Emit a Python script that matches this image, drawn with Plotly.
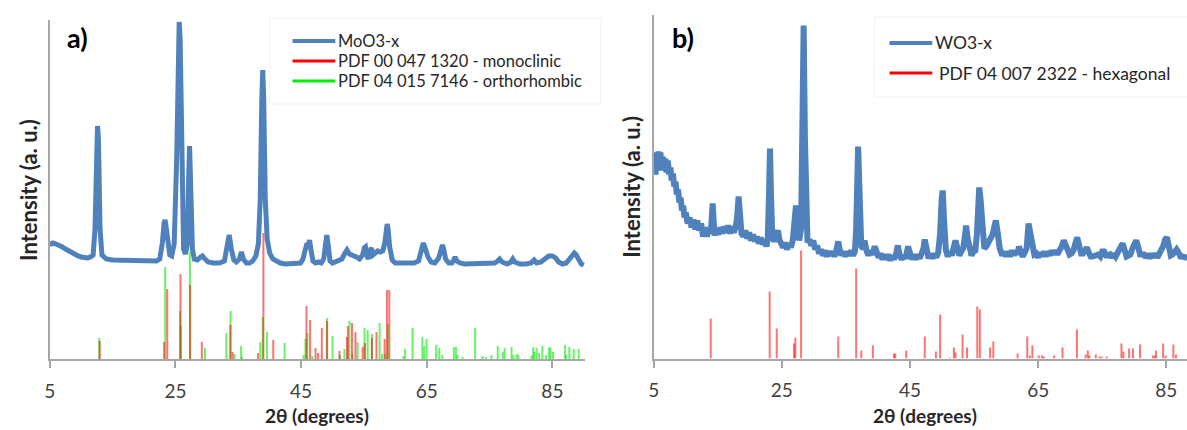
import plotly.graph_objects as go

# ---------------- data ----------------
# Panel a: MoO3-x pattern (2theta, intensity a.u.)
moo3_pts = [(5.0,114),(5.5,116),(6.0,115),(6.5,114),(7.0,112),(7.5,110),(8.0,108),(8.5,106),(9.0,104),(9.5,103),
 (10.0,102),(10.5,101),(11.0,101),(11.5,102),(11.9,104),(12.2,130),(12.45,220),(12.6,233),(12.75,220),(13.0,130),
 (13.3,104),(13.7,101),(14.0,100),(15,99),(16,99),(17,99),(18,99),(19,98),(20,98),(21,98),(22,98),(22.5,100),
 (22.9,115),(23.2,136),(23.35,139),(23.5,133),(23.8,112),(24.1,104),(24.4,103),(24.8,115),(25.2,200),(25.45,320),
 (25.6,337),(25.75,320),(26.0,200),(26.3,110),(26.6,105),(26.9,115),(27.1,180),(27.25,213),(27.4,180),(27.7,110),
 (28.0,100),(28.5,99),(29.0,102),(29.3,103),(29.7,100),(30.2,97),(31,96),(32,96),(32.8,98),(33.2,110),(33.55,124),
 (33.9,110),(34.3,99),(34.7,97),(35.2,100),(35.5,107),(35.8,100),(36.3,96),(36.8,96),(37.3,98),(37.8,103),(38.2,115),
 (38.5,160),(38.75,260),(38.9,289),(39.05,260),(39.3,160),(39.6,120),(40.0,106),(40.5,100),(41.0,98),(41.7,96),
 (42.5,95),(43.5,95),(44.3,95),(44.9,96),(45.3,100),(45.7,114),(45.95,116),(46.1,112),(46.35,119),(46.6,108),
 (46.9,98),(47.3,96),(47.8,97),(48.2,96),(48.6,100),(48.9,115),(49.1,124),(49.3,115),(49.6,98),(50.0,96),(50.5,97),
 (51.0,98),(51.5,100),(51.9,105),(52.3,109),(52.7,105),(53.2,104),(53.8,102),(54.3,100),(54.8,104),(55.05,111),
 (55.25,112),(55.45,104),(55.7,100),(55.95,108),(56.2,111),(56.45,104),(56.8,106),(57.2,108),(57.6,107),(58.0,108),
 (58.3,115),(58.55,130),(58.7,135),(58.85,130),(59.1,112),(59.5,99),(60.0,96),(61,96),(62,96),(63,96),(63.7,98),
 (64.1,106),(64.45,116),(64.8,110),(65.2,102),(65.7,97),(66.3,96),(66.9,101),(67.3,110),(67.5,114),(67.7,110),
 (68.0,100),(68.5,96),(69.0,96),(69.3,99),(69.5,102),(69.8,98),(70.3,96),(71,95),(72,95),(73,95),(74,95),(75,95),
 (75.8,96),(76.3,98),(76.6,100),(77.0,97),(77.8,95),(78.4,97),(78.7,100),(79.0,97),(79.8,95),(80.8,95),(81.6,96),
 (82.1,99),(82.5,96),(83.2,97),(83.8,100),(84.4,103),(85.0,103),(85.5,101),(86.0,97),(86.6,95),(87.2,96),(87.8,100),
 (88.2,104),(88.5,106),(88.8,104),(89.2,98),(89.6,95),(90.0,94)]
moo3_x = [p[0] for p in moo3_pts]
moo3_y = [p[1] for p in moo3_pts]

# PDF 00 047 1320 - monoclinic (positions, relative heights)
mono_pos = [12.95,23.2,23.7,25.8,27.35,29.2,33.75,34.1,38.15,39.0,40.57,45.85,46.43,47.3,47.7,48.3,49.15,51.1,
            52.3,52.45,53.1,53.66,54.8,55.15,56.26,57.0,58.3,58.68,59.05]
mono_h = [18,17,70,85,74,17,34,7,6,126,19,53,39,11,6,31,38,8,22,33,36,27,12,16,21,27,20,69,69]

# PDF 04 015 7146 - orthorhombic
ortho_pos = [12.87,23.37,25.75,25.85,27.3,29.7,33.1,33.77,34.4,35.45,35.6,38.5,38.9,39.57,42.37,45.4,45.7,46.0,
             46.8,49.1,50.0,51.2,51.9,52.7,53.2,54.0,55.1,55.6,56.3,57.5,57.9,58.4,58.8,61.3,61.55,62.74,64.3,64.6,
             64.97,66.5,67.0,67.5,69.3,69.65,69.9,70.7,72.7,73.9,74.4,75.3,76.3,77.1,77.4,78.5,78.8,79.3,79.6,81.7,
             81.96,82.1,82.5,82.9,83.4,84.0,84.5,84.7,85.1,87.0,87.2,87.7,88.4,89.2]
ortho_h = [21,92,48,33,107,11,26,48,5,13,2,17,42,27,16,4,20,26,3,41,23,4,10,38,5,17,31,29,25,36,5,5,35,3,10,31,
           22,13,20,14,11,4,12,12,4,2,31,3,2,4,13,7,11,12,4,5,4,4,12,7,11,6,13,4,12,11,7,14,4,12,10,10]

# Panel b: WO3-x pattern
wo3_pts = [(5.0,186),(5.15,202),(5.3,184),(5.45,206),(5.6,190),(5.75,207),(5.9,192),(6.05,206),(6.2,188),(6.4,202),
 (6.6,190),(6.8,200),(7.0,186),(7.2,198),(7.4,184),(7.6,191),(7.8,178),(8.0,185),(8.2,172),(8.4,177),(8.6,164),
 (8.8,169),(9.0,156),(9.2,161),(9.4,148),(9.6,153),(9.8,141),(10.0,146),(10.3,135),(10.6,141),(10.9,131),(11.2,139),
 (11.5,129),(11.8,138),(12.1,128),(12.4,135),(12.7,122),(13.0,131),(13.3,122),(13.6,130),(13.9,125),(14.05,140),
 (14.2,155),(14.35,138),(14.5,123),(14.8,130),(15.1,124),(15.4,131),(15.7,125),(16.0,132),(16.3,126),(16.6,133),
 (16.9,125),(17.2,132),(17.5,126),(17.8,132),(18.0,140),(18.25,162),(18.5,138),(18.7,125),(19.0,122),(19.3,128),
 (19.6,120),(19.9,126),(20.2,118),(20.5,124),(20.8,117),(21.1,122),(21.4,115),(21.7,121),(22.0,114),(22.3,119),
 (22.6,112),(22.8,120),(23.0,165),(23.15,210),(23.3,165),(23.5,122),(23.8,117),(24.1,122),(24.4,128),(24.6,119),
 (24.9,116),(25.2,111),(25.5,116),(25.8,109),(26.1,115),(26.4,111),(26.7,118),(27.0,135),(27.2,153),(27.4,135),
 (27.7,118),(28.0,130),(28.2,220),(28.4,333),(28.6,220),(28.8,130),(29.0,116),(29.3,119),(29.6,113),(29.9,118),
 (30.2,109),(30.5,113),(30.8,105),(31.1,109),(31.4,103),(31.7,108),(32.0,102),(32.3,107),(32.6,103),(32.9,107),
 (33.2,102),(33.5,108),(33.8,117),(34.0,110),(34.3,103),(34.6,107),(34.9,102),(35.2,107),(35.5,103),(35.8,108),
 (36.1,103),(36.4,107),(36.6,130),(36.9,212),(37.2,130),(37.4,112),(37.7,110),(37.9,118),(38.2,108),(38.5,103),
 (38.8,108),(39.1,104),(39.5,112),(39.8,106),(40.1,101),(40.4,105),(40.7,99),(41.0,104),(41.3,99),(41.6,104),
 (41.9,98),(42.2,103),(42.5,99),(42.8,104),(43.1,113),(43.4,103),(43.7,99),(44.0,103),(44.3,100),(44.7,112),
 (45.0,104),(45.3,99),(45.6,104),(45.9,99),(46.2,104),(46.5,100),(46.8,105),(47.1,110),(47.3,119),(47.6,106),
 (47.9,100),(48.2,105),(48.5,100),(48.8,105),(49.1,101),(49.4,106),(49.7,125),(49.95,160),(50.1,168),(50.3,140),
 (50.6,108),(50.9,102),(51.2,107),(51.5,103),(51.8,110),(52.1,118),(52.4,110),(52.7,103),(53.0,107),(53.3,110),
 (53.6,124),(53.75,133),(54.0,120),(54.3,108),(54.6,103),(54.9,107),(55.2,108),(55.45,125),(55.7,163),(55.8,171),
 (56.0,160),(56.3,120),(56.6,110),(56.9,112),(57.2,116),(57.5,120),(57.9,124),(58.2,133),(58.4,138),(58.7,125),
 (59.0,110),(59.4,103),(59.7,107),(60.0,102),(60.3,107),(60.6,102),(60.9,108),(61.2,103),(61.5,108),(61.8,104),
 (62.0,112),(62.3,106),(62.6,102),(62.9,106),(63.2,110),(63.5,135),(63.8,122),(64.1,110),(64.4,104),(64.7,105),
 (65.0,101),(65.3,106),(65.6,102),(65.9,107),(66.2,102),(66.5,107),(66.8,103),(67.1,108),(67.4,104),(67.7,108),
 (68.0,104),(68.3,108),(68.6,111),(69.0,118),(69.3,112),(69.6,106),(69.9,104),(70.2,105),(70.5,108),(70.8,115),
 (71.1,121),(71.4,113),(71.7,105),(72.0,105),(72.3,107),(72.6,111),(72.9,106),(73.2,102),(73.5,102),(73.8,103),
 (74.1,103),(74.4,104),(74.7,102),(75.0,107),(75.3,107),(75.6,103),(75.9,103),(76.2,104),(76.5,101),(76.8,105),
 (77.1,102),(77.4,107),(77.7,108),(78.0,113),(78.2,115),(78.5,108),(78.8,102),(79.1,103),(79.4,104),(79.7,110),
 (80.0,116),(80.3,118),(80.6,112),(80.9,104),(81.2,104),(81.5,104),(81.8,101),(82.1,105),(82.4,100),(82.7,105),
 (83.0,101),(83.3,105),(83.6,101),(83.9,105),(84.2,106),(84.5,112),(84.8,119),(85.1,121),(85.4,112),(85.7,103),
 (86.0,104),(86.3,106),(86.6,109),(86.9,106),(87.2,102),(87.5,102),(87.8,101),(88.1,101),(88.4,101)]
wo3_x = [p[0] for p in wo3_pts]
wo3_y = [p[1] for p in wo3_pts]

# PDF 04 007 2322 - hexagonal
hex_pos = [13.9,23.1,24.2,26.9,27.1,28.0,33.8,36.6,37.4,39.2,42.5,42.7,44.4,47.3,49.05,49.7,51.2,51.85,52.1,53.2,
           53.9,55.5,55.9,57.5,58.0,61.8,63.3,63.7,64.1,65.1,65.6,65.9,67.5,68.8,71.05,72.4,72.75,73.0,74.0,74.6,
           74.9,75.7,78.0,78.3,79.2,79.8,80.9,82.9,83.2,83.4,84.5,84.9,86.1,86.5]
hex_h = [40,67,30,15,21,108,22,90,8,13,5,5,8,22,7,44,1,11,6,24,11,52,49,11,17,5,22,3,13,3,3,2,3,11,29,4,8,3,4,2,
         2,2,15,7,10,10,14,3,3,8,15,3,14,4]

x_tickvals = [5, 25, 45, 65, 85]
x_ticktext = ["5", "25", "45", "65", "85"]

# ---------------- styling ----------------
W, H = 1187, 430
FONT = "Lato"
BLUE = "#4f81bd"
RED = "rgba(255,0,0,0.55)"
GREEN = "rgba(0,235,0,0.6)"
AXIS = "#a6a6a6"
TXT = "#404040"


def sticks(pos, h):
    xs, ys = [], []
    for p, v in zip(pos, h):
        xs += [p, p, None]
        ys += [0, v, None]
    return xs, ys


fig = go.Figure()

# panel a
fig.add_trace(go.Scatter(x=moo3_x, y=moo3_y, mode="lines", line=dict(color=BLUE, width=5),
                         name="MoO3-x", xaxis="x", yaxis="y", showlegend=False))
sx, sy = sticks(ortho_pos, ortho_h)
fig.add_trace(go.Scatter(x=sx, y=sy, mode="lines", line=dict(color=GREEN, width=2),
                         name="PDF 04 015 7146 - orthorhombic", xaxis="x", yaxis="y", showlegend=False))
sx, sy = sticks(mono_pos, mono_h)
fig.add_trace(go.Scatter(x=sx, y=sy, mode="lines", line=dict(color=RED, width=2),
                         name="PDF 00 047 1320 - monoclinic", xaxis="x", yaxis="y", showlegend=False))

# panel b
fig.add_trace(go.Scatter(x=wo3_x, y=wo3_y, mode="lines", line=dict(color=BLUE, width=6),
                         name="WO3-x", xaxis="x2", yaxis="y2", showlegend=False))
sx, sy = sticks(hex_pos, hex_h)
fig.add_trace(go.Scatter(x=sx, y=sy, mode="lines", line=dict(color=RED, width=2),
                         name="PDF 04 007 2322 - hexagonal", xaxis="x2", yaxis="y2", showlegend=False))

xcommon = dict(showgrid=False, zeroline=False, showline=True, linecolor=AXIS, linewidth=2,
               ticks="outside", ticklen=7, tickwidth=2, tickcolor=AXIS,
               tickvals=x_tickvals, ticktext=x_ticktext, ticklabelstandoff=7,
               tickfont=dict(family=FONT, size=19, color=TXT))
ycommon = dict(showgrid=False, zeroline=False, showline=True, linecolor=AXIS, linewidth=2,
               showticklabels=False, ticks="")

fig.update_layout(
    width=W, height=H, margin=dict(l=0, r=0, t=0, b=0),
    paper_bgcolor="white", plot_bgcolor="white",
    xaxis=dict(domain=[44 / W, 582 / W], range=[5, 90.2], anchor="y", **xcommon),
    yaxis=dict(domain=[(H - 359) / H, (H - 20) / H], range=[0, 339], anchor="x", **ycommon),
    xaxis2=dict(domain=[651 / W, 1.0], range=[5, 88.23], anchor="y2", **xcommon),
    yaxis2=dict(domain=[(H - 358.5) / H, (H - 15) / H], range=[0, 343.5], anchor="x2", **ycommon),
)

ann = []
shp = []


def px(xp, yp):
    return xp / W, 1 - yp / H


def text(xp, yp, s, size, bold=False, xanchor="center", angle=0, color="#262626"):
    x, y = px(xp, yp)
    ann.append(dict(x=x, y=y, xref="paper", yref="paper", text=("<b>%s</b>" % s) if bold else s,
                    showarrow=False, xanchor=xanchor, yanchor="middle", textangle=angle,
                    borderpad=0, font=dict(family=FONT, size=size, color=color)))


def hline(x0, x1, yp, color, width):
    shp.append(dict(type="line", xref="paper", yref="paper", x0=x0 / W, x1=x1 / W,
                    y0=1 - yp / H, y1=1 - yp / H, line=dict(color=color, width=width)))


def box(x0, y0, x1, y1):
    shp.append(dict(type="rect", xref="paper", yref="paper", x0=x0 / W, x1=x1 / W,
                    y0=1 - y1 / H, y1=1 - y0 / H, line=dict(color="#f0f0f0", width=1)))


# panel labels
text(72, 38, "a)", 27, bold=True, color="black")
text(680, 38, "b)", 27, bold=True, color="black")

# axis titles
text(313, 415, "2θ (degrees)", 19, bold=True)
text(924, 415, "2θ (degrees)", 19, bold=True)
text(22, 190, "Intensity (a. u.)", 22, bold=True, angle=-90)
text(628, 187, "Intensity (a. u.)", 22, bold=True, angle=-90)

# legend a
box(265, 18, 598, 104)
hline(288, 331, 41, BLUE, 4)
hline(288, 331, 61, "red", 3)
hline(288, 331, 81, "#00ee00", 3)
text(333, 41, "MoO3-x", 16.5, xanchor="left")
text(333, 61, "PDF 00 047 1320 - monoclinic", 16.5, xanchor="left")
text(333, 81, "PDF 04 015 7146 - orthorhombic", 16.5, xanchor="left")

# legend b
box(873, 17, 1190, 97)
hline(888, 931, 43, BLUE, 4)
hline(888, 931, 73, "red", 3)
text(933, 43, "WO3-x", 17.5, xanchor="left")
text(937, 73, "PDF 04 007 2322 - hexagonal", 17.5, xanchor="left")

fig.update_layout(annotations=ann, shapes=shp)
fig.write_html("out.html")
